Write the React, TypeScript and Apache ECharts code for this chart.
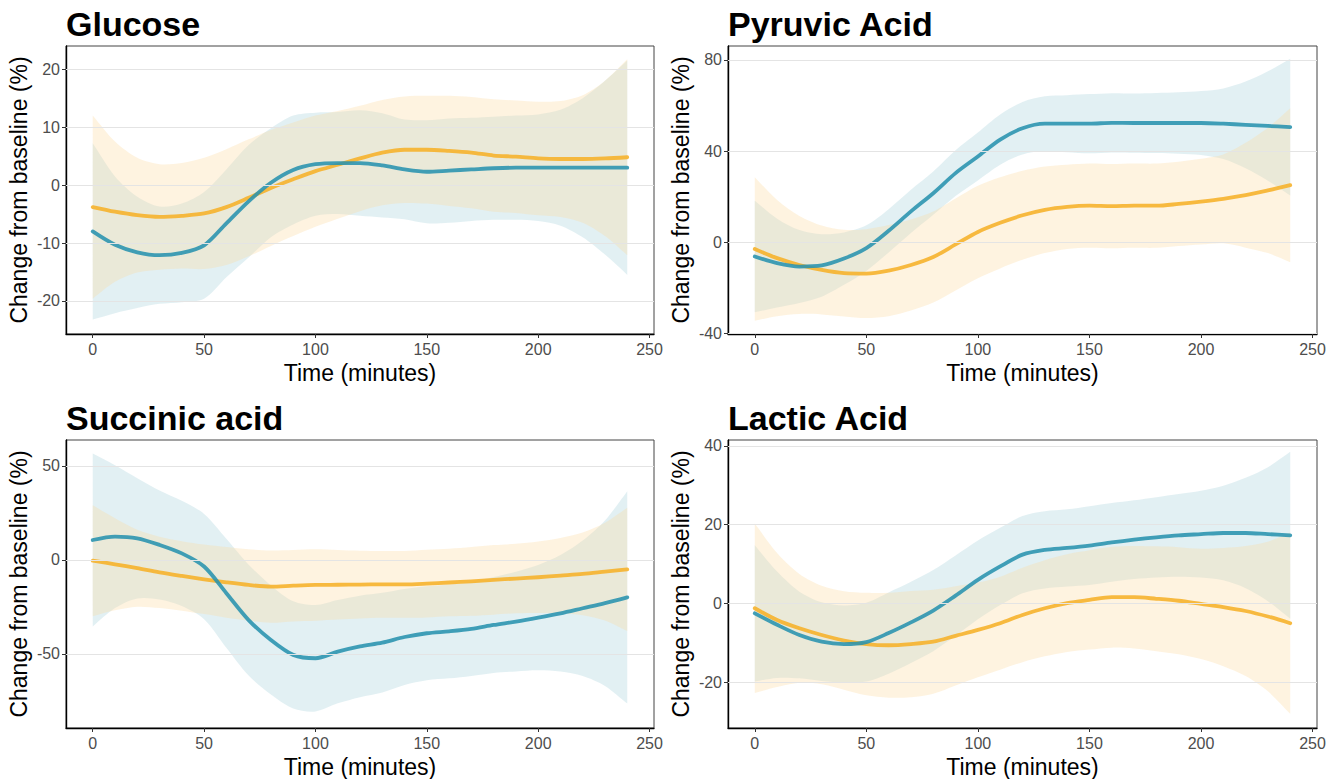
import React, { useEffect, useRef } from "react";
import * as echarts from "echarts";

// ---------------- data ----------------
const TIME = [0, 10, 20, 30, 40, 50, 60, 70, 80, 90, 100, 110, 120, 130, 140, 150, 160, 170, 180, 190, 200, 210, 220, 230, 240];
const X_TICKS = [0, 50, 100, 150, 200, 250];

const PANEL_TITLES = ["Glucose", "Pyruvic Acid", "Succinic acid", "Lactic Acid"];
const X_NAME = "Time (minutes)";
const Y_NAME = "Change from baseline (%)";

// Glucose
const GLUCOSE_Y_TICKS = [-20, -10, 0, 10, 20];
const GLUCOSE_TEAL = [-8.0, -10.3, -11.6, -12.1, -11.7, -10.4, -6.6, -2.8, 0.4, 2.6, 3.6, 3.8, 3.8, 3.4, 2.7, 2.3, 2.5, 2.7, 2.9, 3.0, 3.0, 3.0, 3.0, 3.0, 3.0];
const GLUCOSE_TEAL_HI = [7.2, 1.5, -2.0, -3.7, -3.2, -1.2, 2.7, 6.9, 9.8, 12.0, 12.5, 12.6, 12.9, 12.4, 11.3, 11.2, 11.5, 11.6, 11.8, 12.0, 12.2, 13.0, 15.0, 18.0, 21.5];
const GLUCOSE_TEAL_LO = [-23.2, -22.1, -21.2, -20.5, -20.2, -19.6, -15.9, -12.5, -9.0, -6.8, -5.3, -5.0, -5.3, -5.6, -5.9, -6.6, -6.5, -6.2, -6.0, -6.0, -6.2, -7.0, -9.0, -12.0, -15.5];
const GLUCOSE_GOLD = [-3.8, -4.6, -5.2, -5.5, -5.3, -4.9, -3.8, -2.2, -0.5, 1.0, 2.4, 3.5, 4.6, 5.6, 6.1, 6.1, 5.9, 5.6, 5.1, 4.9, 4.6, 4.5, 4.5, 4.6, 4.8];
const GLUCOSE_GOLD_HI = [12.0, 7.5, 4.7, 3.6, 3.8, 4.7, 6.2, 7.9, 9.5, 10.8, 12.0, 12.8, 13.7, 14.7, 15.3, 15.4, 15.4, 15.2, 14.8, 14.6, 14.4, 14.5, 15.5, 18.0, 21.7];
const GLUCOSE_GOLD_LO = [-19.6, -16.7, -15.1, -14.6, -14.4, -14.5, -13.8, -12.3, -10.5, -8.8, -7.2, -5.8, -4.5, -3.5, -3.1, -3.2, -3.6, -4.0, -4.6, -4.8, -5.2, -5.5, -6.5, -8.8, -12.1];

// Pyruvic acid
const PYRUVIC_Y_TICKS = [-40, 0, 40, 80];
const PYRUVIC_TEAL = [-6.3, -9.2, -10.7, -10.2, -7.2, -2.6, 5.0, 13.5, 21.5, 30.3, 37.6, 45.0, 50.0, 52.0, 52.0, 52.0, 52.4, 52.3, 52.3, 52.3, 52.3, 52.0, 51.5, 51.0, 50.5];
const PYRUVIC_TEAL_HI = [18.2, 10.3, 5.3, 3.5, 4.3, 7.4, 14.5, 23.0, 31.0, 40.3, 48.1, 56.0, 61.5, 64.0, 64.5, 65.0, 65.4, 65.3, 65.5, 65.8, 66.3, 67.5, 70.5, 75.0, 80.5];
const PYRUVIC_TEAL_LO = [-30.8, -28.7, -26.7, -23.9, -18.7, -12.6, -4.5, 4.0, 12.0, 20.3, 27.1, 34.0, 38.5, 40.0, 39.5, 39.0, 39.4, 39.3, 39.1, 38.8, 38.3, 36.5, 32.5, 27.0, 20.5];
const PYRUVIC_GOLD = [-3.0, -7.0, -10.0, -12.2, -13.6, -13.8, -12.5, -10.0, -6.5, -1.0, 4.5, 8.5, 11.8, 14.2, 15.5, 16.0, 15.8, 16.0, 16.0, 16.8, 17.8, 19.0, 20.6, 22.7, 25.0];
const PYRUVIC_GOLD_HI = [28.5, 18.5, 11.5, 7.3, 5.4, 5.7, 7.5, 10.0, 13.5, 19.2, 24.8, 28.5, 31.3, 33.2, 34.0, 34.5, 34.3, 34.5, 34.5, 35.3, 36.6, 38.5, 43.6, 50.2, 58.8];
const PYRUVIC_GOLD_LO = [-34.5, -32.5, -31.5, -31.7, -32.6, -33.3, -32.5, -30.0, -26.5, -21.2, -15.8, -11.5, -7.7, -4.8, -3.0, -2.5, -2.7, -2.5, -2.5, -1.7, -1.0, -0.5, -2.4, -4.8, -8.8];

// Succinic acid
const SUCCINIC_Y_TICKS = [-50, 0, 50];
const SUCCINIC_TEAL = [10.6, 12.4, 11.5, 8.0, 3.5, -3.5, -17.7, -32.0, -42.6, -50.5, -52.3, -48.8, -46.0, -44.0, -41.0, -39.0, -38.0, -36.7, -34.6, -32.8, -30.7, -28.4, -25.7, -23.0, -19.9];
const SUCCINIC_TEAL_HI = [56.6, 50.4, 43.5, 37.0, 31.5, 24.5, 11.3, -2.5, -13.6, -22.0, -24.0, -21.3, -19.0, -17.5, -15.5, -14.0, -13.0, -11.7, -9.1, -6.3, -2.7, 2.6, 10.3, 21.0, 36.6];
const SUCCINIC_TEAL_LO = [-35.4, -25.6, -20.5, -21.0, -24.5, -31.5, -46.7, -61.5, -71.6, -79.0, -80.6, -76.3, -73.0, -70.5, -66.5, -64.0, -63.0, -61.7, -60.1, -59.3, -58.7, -59.4, -61.7, -67.0, -76.4];
const SUCCINIC_GOLD = [-0.4, -2.3, -4.4, -6.6, -8.5, -10.3, -11.9, -13.3, -14.2, -13.7, -13.3, -13.2, -13.1, -13.0, -13.0, -12.6, -12.0, -11.4, -10.6, -9.9, -9.2, -8.3, -7.4, -6.2, -5.0];
const SUCCINIC_GOLD_HI = [29.1, 22.2, 16.1, 12.4, 10.0, 8.2, 6.9, 5.7, 5.0, 5.3, 5.7, 5.3, 4.9, 4.8, 4.8, 5.4, 6.0, 6.9, 7.9, 8.6, 9.8, 11.7, 14.6, 19.8, 27.8];
const SUCCINIC_GOLD_LO = [-29.9, -26.8, -24.9, -25.6, -27.0, -28.8, -30.7, -32.3, -33.4, -32.7, -32.3, -31.7, -31.1, -30.8, -30.8, -30.6, -30.0, -29.7, -29.1, -28.4, -28.2, -28.3, -29.4, -32.2, -37.8];

// Lactic acid
const LACTIC_Y_TICKS = [-20, 0, 20, 40];
const LACTIC_TEAL = [-2.5, -5.4, -8.0, -9.7, -10.3, -9.8, -7.5, -4.8, -1.8, 2.0, 6.0, 9.4, 12.4, 13.6, 14.1, 14.7, 15.5, 16.2, 16.8, 17.3, 17.6, 17.9, 17.9, 17.6, 17.3];
const LACTIC_TEAL_HI = [14.8, 8.1, 3.0, 0.3, -0.5, 0.2, 2.8, 5.5, 8.5, 12.2, 16.0, 19.2, 22.2, 23.4, 23.9, 24.7, 25.5, 26.2, 27.0, 27.8, 28.6, 29.9, 31.9, 34.6, 38.5];
const LACTIC_TEAL_LO = [-19.8, -18.9, -19.0, -19.7, -20.1, -19.8, -17.8, -15.1, -12.1, -8.2, -4.0, -0.4, 2.6, 3.8, 4.3, 4.7, 5.5, 6.2, 6.6, 6.8, 6.6, 5.9, 3.9, 0.6, -3.9];
const LACTIC_GOLD = [-1.2, -4.2, -6.3, -8.0, -9.4, -10.3, -10.6, -10.3, -9.7, -8.2, -6.7, -5.0, -2.9, -1.2, 0.1, 0.9, 1.6, 1.6, 1.2, 0.7, -0.1, -0.9, -1.9, -3.3, -5.0];
const LACTIC_GOLD_HI = [20.3, 12.8, 7.5, 4.5, 3.1, 2.7, 2.7, 3.2, 3.5, 4.4, 5.3, 6.8, 9.1, 11.0, 12.5, 13.5, 14.4, 14.6, 14.5, 14.3, 13.9, 14.1, 14.6, 15.7, 18.0];
const LACTIC_GOLD_LO = [-22.7, -21.2, -20.1, -20.5, -21.9, -23.3, -23.9, -23.8, -22.9, -20.8, -18.7, -16.8, -14.9, -13.4, -12.3, -11.7, -11.2, -11.4, -12.1, -12.9, -14.1, -15.9, -18.4, -22.3, -28.0];

// ---------------- layout / style ----------------
const FONT = "'Liberation Sans', Arial, Helvetica, sans-serif";
const TEAL_LINE = "rgba(40,146,174,0.88)";
const GOLD_LINE = "rgba(246,176,40,0.88)";
const TEAL_FILL = "rgba(168,208,218,0.33)";
const GOLD_FILL = "rgba(252,220,160,0.33)";

const PANELS = [
  { title: PANEL_TITLES[0], left: 66, top: 46, width: 588, height: 288, yMin: -25.7, yMax: 24.0, yTicks: GLUCOSE_Y_TICKS,
    teal: GLUCOSE_TEAL, tealLo: GLUCOSE_TEAL_LO, tealHi: GLUCOSE_TEAL_HI, gold: GLUCOSE_GOLD, goldLo: GLUCOSE_GOLD_LO, goldHi: GLUCOSE_GOLD_HI },
  { title: PANEL_TITLES[1], left: 728, top: 46, width: 589, height: 288, yMin: -40.3, yMax: 86.1, yTicks: PYRUVIC_Y_TICKS,
    teal: PYRUVIC_TEAL, tealLo: PYRUVIC_TEAL_LO, tealHi: PYRUVIC_TEAL_HI, gold: PYRUVIC_GOLD, goldLo: PYRUVIC_GOLD_LO, goldHi: PYRUVIC_GOLD_HI },
  { title: PANEL_TITLES[2], left: 66, top: 440, width: 588, height: 288, yMin: -89.4, yMax: 63.8, yTicks: SUCCINIC_Y_TICKS,
    teal: SUCCINIC_TEAL, tealLo: SUCCINIC_TEAL_LO, tealHi: SUCCINIC_TEAL_HI, gold: SUCCINIC_GOLD, goldLo: SUCCINIC_GOLD_LO, goldHi: SUCCINIC_GOLD_HI },
  { title: PANEL_TITLES[3], left: 728, top: 440, width: 589, height: 288, yMin: -31.6, yMax: 41.5, yTicks: LACTIC_Y_TICKS,
    teal: LACTIC_TEAL, tealLo: LACTIC_TEAL_LO, tealHi: LACTIC_TEAL_HI, gold: LACTIC_GOLD, goldLo: LACTIC_GOLD_LO, goldHi: LACTIC_GOLD_HI },
];

function ribbonSeries(i: number, lo: number[], hi: number[], fill: string) {
  return {
    type: "custom",
    xAxisIndex: i,
    yAxisIndex: i,
    z: 3,
    silent: true,
    data: TIME.map((t, k) => [t, lo[k], hi[k]]),
    encode: { x: 0, y: [1, 2] },
    renderItem: (params: any, api: any) => {
      if (params.dataIndex !== 0) return null;
      const top = TIME.map((t, k) => api.coord([t, hi[k]]));
      const bot = TIME.map((t, k) => api.coord([t, lo[k]])).reverse();
      // duplicate corner points so the vertical ends stay straight
      const pts = [top[0], ...top, top[top.length - 1], bot[0], ...bot, bot[bot.length - 1]];
      return {
        type: "polygon",
        shape: { points: pts, smooth: 0.3 },
        style: { fill, stroke: null },
      };
    },
  };
}

function lineSeries(i: number, vals: number[], color: string) {
  return {
    type: "line",
    xAxisIndex: i,
    yAxisIndex: i,
    z: 4,
    silent: true,
    smooth: 0.3,
    symbol: "none",
    data: TIME.map((t, k) => [t, vals[k]]),
    lineStyle: { color, width: 3.8, cap: "round", join: "round" },
  };
}

function gridLineSeries(i: number, ticks: number[]) {
  return {
    type: "line",
    xAxisIndex: i,
    yAxisIndex: i,
    z: 1,
    silent: true,
    data: [],
    markLine: {
      silent: true,
      symbol: ["none", "none"],
      label: { show: false },
      lineStyle: { color: "#E4E4E4", width: 1, type: "solid" },
      data: ticks.map((v) => ({ yAxis: v })),
    },
  };
}

export default function App() {
  const ref = useRef<HTMLDivElement>(null);

  useEffect(() => {
    if (!ref.current) return;
    const chart = echarts.init(ref.current, null, { renderer: "svg" });

    const option: any = {
      animation: false,
      backgroundColor: "#ffffff",
      textStyle: { fontFamily: FONT },
      title: PANELS.map((p) => ({
        text: p.title,
        left: p.left,
        top: p.top - 39,
        padding: 0,
        textStyle: { fontSize: 34, fontWeight: "bold", color: "#000", fontFamily: FONT },
      })),
      grid: PANELS.map((p) => ({
        left: p.left,
        top: p.top,
        width: p.width,
        height: p.height,
        show: true,
        borderColor: "#444",
        borderWidth: 1,
        backgroundColor: "transparent",
        containLabel: false,
      })),
      xAxis: PANELS.map((p, i) => ({
        type: "value",
        gridIndex: i,
        min: -12,
        max: 252,
        name: X_NAME,
        nameLocation: "middle",
        nameGap: 27,
        nameTextStyle: { fontSize: 23, color: "#000", fontFamily: FONT },
        axisLine: { show: true, onZero: false, lineStyle: { color: "#000", width: 1.4 } },
        axisTick: { show: true, length: 4, customValues: X_TICKS, lineStyle: { color: "#333", width: 1 } },
        axisLabel: { customValues: X_TICKS, color: "#4D4D4D", fontSize: 16, margin: 7, fontFamily: FONT },
        splitLine: { show: false },
      })),
      yAxis: PANELS.map((p, i) => ({
        type: "value",
        gridIndex: i,
        min: p.yMin,
        max: p.yMax,
        name: Y_NAME,
        nameLocation: "middle",
        nameGap: 36,
        nameTextStyle: { fontSize: 23, color: "#000", fontFamily: FONT },
        axisLine: { show: true, onZero: false, lineStyle: { color: "#000", width: 1.4 } },
        axisTick: { show: true, length: 4, customValues: p.yTicks, lineStyle: { color: "#333", width: 1 } },
        axisLabel: { customValues: p.yTicks, color: "#4D4D4D", fontSize: 16, margin: 6, fontFamily: FONT },
        splitLine: { show: false },
      })),
      series: PANELS.flatMap((p, i) => [
        gridLineSeries(i, p.yTicks),
        ribbonSeries(i, p.tealLo, p.tealHi, TEAL_FILL),
        ribbonSeries(i, p.goldLo, p.goldHi, GOLD_FILL),
        lineSeries(i, p.gold, GOLD_LINE),
        lineSeries(i, p.teal, TEAL_LINE),
      ]),
    };

    chart.setOption(option);
    return () => chart.dispose();
  }, []);

  return (
    <div
      ref={ref}
      style={{ position: "absolute", left: 0, top: 0, width: 1339, height: 779, background: "#fff" }}
    />
  );
}
